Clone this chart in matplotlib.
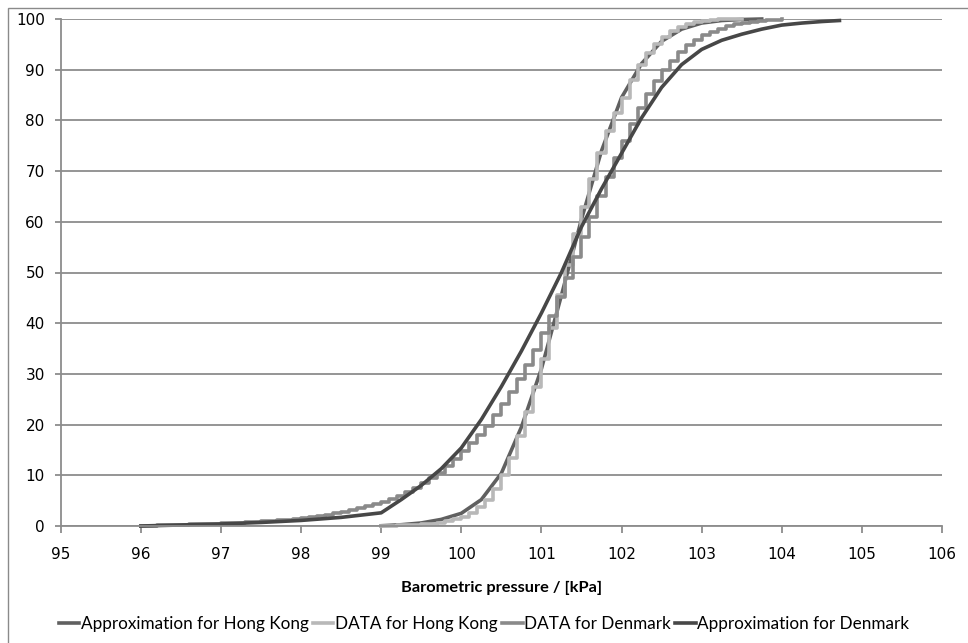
import matplotlib
matplotlib.use("Agg")
import matplotlib.pyplot as plt
from matplotlib.patches import Rectangle

# ---------------- data ----------------
hk_approx_x = [99.0, 99.25, 99.5, 99.75, 100.0, 100.25, 100.5, 100.75, 101.0, 101.25,
               101.5, 101.75, 102.0, 102.25, 102.5, 102.75, 103.0, 103.25, 103.5, 103.75]
hk_approx_y = [0.05, 0.25, 0.6, 1.3, 2.5, 5.2, 10.4, 19.5, 31.0, 45.5,
               60.5, 74.0, 84.5, 91.2, 95.6, 98.0, 99.2, 99.7, 99.9, 100.0]

hk_data_x = [99.0, 99.1, 99.2, 99.3, 99.4, 99.5, 99.6, 99.7, 99.8, 99.9,
             100.0, 100.1, 100.2, 100.3, 100.4, 100.5, 100.6, 100.7, 100.8, 100.9,
             101.0, 101.1, 101.2, 101.3, 101.4, 101.5, 101.6, 101.7, 101.8, 101.9,
             102.0, 102.1, 102.2, 102.3, 102.4, 102.5, 102.6, 102.7, 102.8, 102.9,
             103.0, 103.1, 103.2, 103.3, 103.4, 103.5]
hk_data_y = [0.0, 0.05, 0.1, 0.1, 0.2, 0.3, 0.4, 0.6, 0.9, 1.3,
             1.8, 2.6, 3.7, 5.2, 7.3, 10.0, 13.5, 17.8, 22.5, 27.5,
             33.0, 39.0, 45.5, 51.5, 57.5, 63.0, 68.5, 73.5, 78.0, 81.5,
             84.5, 88.0, 91.0, 93.3, 95.0, 96.5, 97.6, 98.4, 99.0, 99.4,
             99.7, 99.85, 99.93, 99.97, 100.0, 100.0]

dk_data_x = [96.0, 96.1, 96.2, 96.3, 96.4, 96.5, 96.6, 96.7, 96.8, 96.9,
             97.0, 97.1, 97.2, 97.3, 97.4, 97.5, 97.6, 97.7, 97.8, 97.9,
             98.0, 98.1, 98.2, 98.3, 98.4, 98.5, 98.6, 98.7, 98.8, 98.9,
             99.0, 99.1, 99.2, 99.3, 99.4, 99.5, 99.6, 99.7, 99.8, 99.9,
             100.0, 100.1, 100.2, 100.3, 100.4, 100.5, 100.6, 100.7, 100.8, 100.9,
             101.0, 101.1, 101.2, 101.3, 101.4, 101.5, 101.6, 101.7, 101.8, 101.9,
             102.0, 102.1, 102.2, 102.3, 102.4, 102.5, 102.6, 102.7, 102.8, 102.9,
             103.0, 103.1, 103.2, 103.3, 103.4, 103.5, 103.6, 103.7, 103.8, 103.9,
             104.0]
dk_data_y = [0.0, 0.05, 0.1, 0.15, 0.2, 0.25, 0.3, 0.35, 0.4, 0.45,
             0.5, 0.55, 0.6, 0.7, 0.8, 0.9, 1.0, 1.1, 1.25, 1.4,
             1.6, 1.8, 2.0, 2.25, 2.5, 2.8, 3.1, 3.5, 3.9, 4.35,
             4.8, 5.4, 6.0, 6.7, 7.5, 8.4, 9.4, 10.5, 11.8, 13.2,
             14.7, 16.3, 18.0, 19.8, 21.8, 24.0, 26.4, 29.0, 31.8, 34.8,
             38.0, 41.5, 45.2, 49.0, 53.0, 57.0, 61.0, 65.0, 68.8, 72.5,
             76.0, 79.3, 82.4, 85.2, 87.7, 89.9, 91.8, 93.4, 94.8, 95.9,
             96.8, 97.5, 98.1, 98.6, 99.0, 99.3, 99.5, 99.7, 99.8, 99.9,
             100.0]

dk_approx_x = [96.0, 96.5, 97.0, 97.5, 98.0, 98.5, 99.0, 99.25, 99.5, 99.75,
               100.0, 100.25, 100.5, 100.75, 101.0, 101.25, 101.5, 101.75, 102.0, 102.25,
               102.5, 102.75, 103.0, 103.25, 103.5, 103.75, 104.0, 104.25, 104.5, 104.72]
dk_approx_y = [0.0, 0.2, 0.4, 0.7, 1.1, 1.7, 2.6, 5.2, 8.0, 11.3,
               15.4, 21.0, 27.5, 34.5, 42.0, 50.0, 59.0, 66.5, 73.5, 80.5,
               86.5, 91.0, 94.0, 95.8, 97.0, 98.0, 98.8, 99.2, 99.5, 99.7]

series_labels = ["Approximation for Hong Kong", "DATA for Hong Kong",
                 "DATA for Denmark", "Approximation for Denmark"]
x_ticks = [95, 96, 97, 98, 99, 100, 101, 102, 103, 104, 105, 106]
y_ticks = [0, 10, 20, 30, 40, 50, 60, 70, 80, 90, 100]
x_label = "Barometric pressure / [kPa]"

# ---------------- figure ----------------
W, H = 968, 643
fig = plt.figure(figsize=(W / 100, H / 100), dpi=100)
fig.patch.set_facecolor("white")

# outer chart border (left and top visible)
fig.add_artist(Rectangle((8 / W, -0.05), 1.2, 1 - 7.5 / H + 0.05,
                         transform=fig.transFigure, fill=False,
                         edgecolor="#8a8a8a", linewidth=1.0))

left, right = 60.7 / W, 942 / W
bottom, top = 1 - 526 / H, 1 - 19 / H
ax = fig.add_axes([left, bottom, right - left, top - bottom])

grid_c = "#8c8c8c"
ax.set_xlim(95, 106)
ax.set_ylim(0, 100)
ax.set_xticks(x_ticks)
ax.set_yticks(y_ticks)
ax.yaxis.grid(True, color=grid_c, linewidth=1.3)
ax.set_axisbelow(True)
for s in ["top", "right"]:
    ax.spines[s].set_visible(False)
for s in ["left", "bottom"]:
    ax.spines[s].set_color(grid_c)
    ax.spines[s].set_linewidth(1.3)

ax.tick_params(axis="x", direction="out", length=5, width=1.3, color=grid_c,
               pad=10, labelsize=11, labelcolor="black")
ax.tick_params(axis="y", direction="out", length=4.5, width=1.3, color=grid_c,
               pad=7, labelsize=11, labelcolor="black")
for lab in ax.get_xticklabels() + ax.get_yticklabels():
    lab.set_fontfamily("DejaVu Sans")

lw = 2.6
c_hk_app = "#606060"
c_hk_dat = "#b8b8b8"
c_dk_dat = "#8a8a8a"
c_dk_app = "#474747"

l1, = ax.plot(hk_approx_x, hk_approx_y, color=c_hk_app, lw=lw, clip_on=False,
              solid_joinstyle="round", label=series_labels[0])
l2, = ax.plot(hk_data_x, hk_data_y, color=c_hk_dat, lw=lw, drawstyle="steps-post",
              clip_on=False, label=series_labels[1])
l3, = ax.plot(dk_data_x, dk_data_y, color=c_dk_dat, lw=lw, drawstyle="steps-post",
              clip_on=False, label=series_labels[2])
l4, = ax.plot(dk_approx_x, dk_approx_y, color=c_dk_app, lw=lw, clip_on=False,
              solid_joinstyle="round", label=series_labels[3])

fig.text((left + right) / 2, 1 - 588 / H, x_label, ha="center", va="center",
         fontsize=11.8, fontweight="bold", family="Lato")

leg = fig.legend(handles=[l1, l2, l3, l4], labels=series_labels,
                 loc="center", bbox_to_anchor=(0.5, 1 - 624 / H), ncol=4,
                 frameon=False, handlelength=1.2, handletextpad=0.1,
                 columnspacing=0.25, prop={"family": "Lato", "size": 12.3})

fig.savefig("out.png", dpi=100, facecolor="white")
